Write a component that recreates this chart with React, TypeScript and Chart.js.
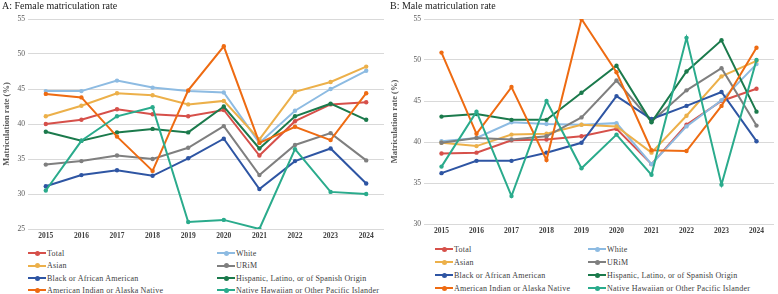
import React, { useEffect, useRef } from "react";
import { Chart, registerables } from "chart.js";

Chart.register(...registerables);

const years = ["2015", "2016", "2017", "2018", "2019", "2020", "2021", "2022", "2023", "2024"];

const seriesNames = [
  "Total",
  "White",
  "Asian",
  "URiM",
  "Black or African American",
  "Hispanic, Latino, or of Spanish Origin",
  "American Indian or Alaska Native",
  "Native Hawaiian or Other Pacific Islander",
];

const seriesColors = ["#d6504a", "#8dbbe2", "#ecb04a", "#7f7f7f", "#2e55a3", "#1b7a4c", "#ee6b12", "#2aab8c"];

// Female
const femaleTotal = [40.0, 40.6, 42.1, 41.4, 41.1, 42.0, 35.5, 40.4, 42.8, 43.1];
const femaleWhite = [44.7, 44.7, 46.2, 45.2, 44.7, 44.5, 37.3, 41.9, 45.0, 47.6];
const femaleAsian = [41.1, 42.6, 44.4, 44.1, 42.8, 43.3, 37.8, 44.6, 46.0, 48.2];
const femaleURiM = [34.2, 34.7, 35.5, 35.0, 36.6, 39.7, 32.7, 37.0, 38.7, 34.8];
const femaleBlack = [31.1, 32.7, 33.4, 32.6, 35.1, 37.9, 30.7, 34.7, 36.5, 31.5];
const femaleHispanic = [38.9, 37.6, 38.8, 39.3, 38.8, 42.5, 36.5, 41.1, 42.9, 40.6];
const femaleAIAN = [44.3, 43.8, 38.2, 33.3, 44.8, 51.1, 37.3, 39.6, 37.7, 44.4];
const femaleNHPI = [30.5, 37.6, 41.1, 42.4, 26.0, 26.3, 25.0, 36.4, 30.3, 30.0];

// Male
const maleTotal = [38.6, 38.7, 40.2, 40.3, 40.7, 41.6, 37.3, 42.1, 45.0, 46.5];
const maleWhite = [40.1, 40.5, 42.4, 42.2, 42.1, 42.3, 37.3, 41.9, 45.1, 49.5];
const maleAsian = [39.9, 39.5, 40.9, 41.0, 42.1, 41.9, 38.7, 43.2, 48.0, 49.9];
const maleURiM = [39.9, 40.5, 40.3, 40.7, 43.0, 47.5, 42.5, 46.3, 49.0, 42.0];
const maleBlack = [36.2, 37.7, 37.7, 38.7, 39.9, 45.6, 42.8, 44.4, 46.1, 40.1];
const maleHispanic = [43.1, 43.4, 42.7, 42.7, 46.0, 49.3, 42.4, 48.6, 52.4, 43.7];
const maleAIAN = [50.9, 41.0, 46.7, 37.8, 55.0, 48.5, 39.0, 38.9, 44.4, 51.5];
const maleNHPI = [37.0, 43.7, 33.4, 45.0, 36.8, 40.9, 36.0, 52.7, 34.8, 50.0];

const femaleSeries = [femaleTotal, femaleWhite, femaleAsian, femaleURiM, femaleBlack, femaleHispanic, femaleAIAN, femaleNHPI];
const maleSeries = [maleTotal, maleWhite, maleAsian, maleURiM, maleBlack, maleHispanic, maleAIAN, maleNHPI];

const femaleTicks = { min: 25, max: 55, step: 5 };
const maleTicks = { min: 30, max: 55, step: 5 };

const FONT = "'Liberation Serif', 'Times New Roman', serif";

type PanelProps = {
  left: number;
  title: string;
  series: number[][];
  yRange: { min: number; max: number; step: number };
  canvasW: number;
  canvasH: number;
  yAxisW: number;
  padRight: number;
  legendRows: number[];
  legendCols: number[];
};

function Panel(p: PanelProps) {
  const ref = useRef<HTMLCanvasElement | null>(null);
  useEffect(() => {
    if (!ref.current) return;
    const chart = new Chart(ref.current, {
      type: "line",
      data: {
        labels: years,
        datasets: p.series.map((d, i) => ({
          label: seriesNames[i],
          data: d,
          borderColor: seriesColors[i],
          backgroundColor: seriesColors[i],
          borderWidth: 2,
          pointRadius: 2.2,
          pointBorderWidth: 0,
          pointBackgroundColor: seriesColors[i],
          tension: 0,
          order: 8 - i,
        })),
      },
      options: {
        responsive: false,
        animation: false,
        devicePixelRatio: 1,
        layout: { padding: { top: 19, right: p.padRight, left: 0, bottom: 0 } },
        plugins: { legend: { display: false }, title: { display: false }, tooltip: { enabled: false } },
        scales: {
          x: {
            type: "category",
            offset: true,
            grid: { display: false, drawTicks: false },
            border: { display: false },
            ticks: {
              color: "#404040",
              padding: 3,
              font: { family: FONT, size: 7.5, weight: "bold" },
              maxRotation: 0,
              autoSkip: false,
            },
            afterFit: (s: any) => {
              s.height = 16;
            },
          },
          y: {
            min: p.yRange.min,
            max: p.yRange.max,
            grid: { color: "#d9d9d9", lineWidth: 1, drawTicks: false },
            border: { display: false },
            ticks: {
              stepSize: p.yRange.step,
              color: "#595959",
              padding: 3,
              font: { family: FONT, size: 7.5 },
            },
            title: {
              display: true,
              text: "Matriculation rate (%)",
              color: "#595959",
              font: { family: FONT, size: 8.5, weight: "bold" },
              padding: { top: 2, bottom: 0 },
            },
            afterFit: (s: any) => {
              s.width = p.yAxisW;
            },
          },
        },
      },
    } as any);
    return () => chart.destroy();
  }, []);

  return (
    <div style={{ position: "absolute", left: p.left, top: 0, width: p.canvasW, height: 294 }}>
      <canvas ref={ref} width={p.canvasW} height={p.canvasH} style={{ position: "absolute", left: 0, top: 0 }} />
      <div
        style={{
          position: "absolute",
          left: 2,
          top: 0,
          fontFamily: FONT,
          fontSize: 10,
          lineHeight: "12px",
          color: "#222",
          whiteSpace: "nowrap",
        }}
      >
        {p.title}
      </div>
      {seriesNames.map((name, i) => {
        const row = Math.floor(i / 2);
        const col = i % 2;
        return (
          <div
            key={name}
            style={{
              position: "absolute",
              left: p.legendCols[col],
              top: p.legendRows[row] - 6,
              height: 12,
              display: "flex",
              alignItems: "center",
              whiteSpace: "nowrap",
            }}
          >
            <span style={{ position: "relative", width: 18, height: 2, background: seriesColors[i], display: "inline-block" }}>
              <span
                style={{
                  position: "absolute",
                  left: 6.5,
                  top: -1.5,
                  width: 5,
                  height: 5,
                  borderRadius: "50%",
                  background: seriesColors[i],
                }}
              />
            </span>
            <span style={{ fontFamily: FONT, fontSize: 8, color: "#404040", marginLeft: 1, letterSpacing: 0.2 }}>{name}</span>
          </div>
        );
      })}
    </div>
  );
}

export default function App() {
  return (
    <div style={{ position: "absolute", left: 0, top: 0, width: 778, height: 294, background: "#fff", overflow: "hidden" }}>
      <Panel
        left={0}
        title="A: Female matriculation rate"
        series={femaleSeries}
        yRange={femaleTicks}
        canvasW={388}
        canvasH={245}
        yAxisW={28}
        padRight={2}
        legendRows={[253, 265.5, 278, 290]}
        legendCols={[28, 217]}
      />
      <Panel
        left={388}
        title="B: Male matriculation rate"
        series={maleSeries}
        yRange={maleTicks}
        canvasW={390}
        canvasH={240}
        yAxisW={36}
        padRight={1}
        legendRows={[249, 262, 275, 288]}
        legendCols={[47, 200]}
      />
    </div>
  );
}
